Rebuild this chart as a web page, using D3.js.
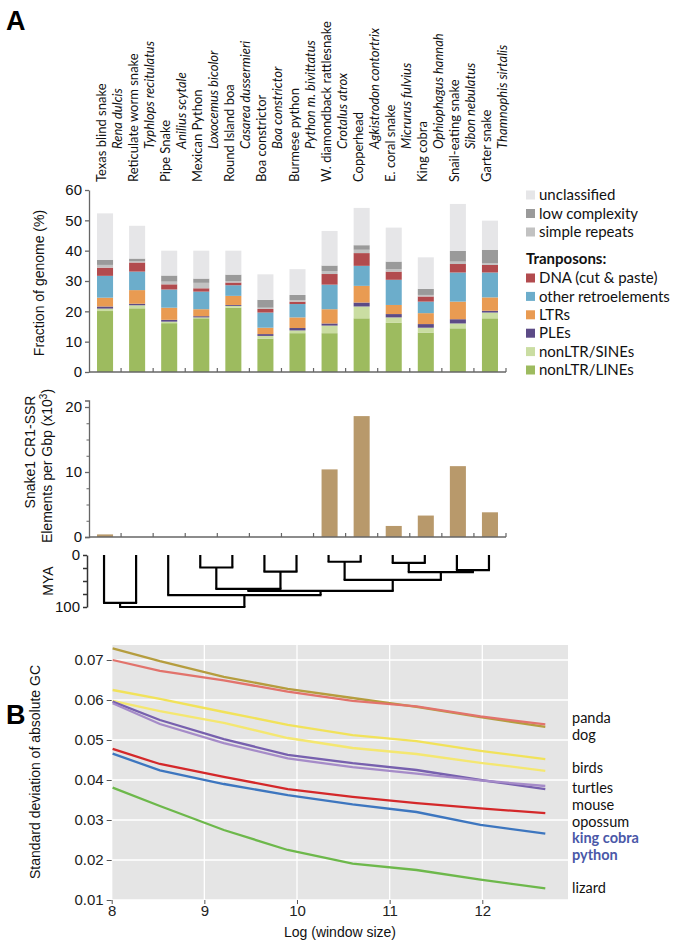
<!DOCTYPE html>
<html><head><meta charset="utf-8">
<script src="https://cdn.jsdelivr.net/npm/d3@7"></script>
<style>
html,body{margin:0;padding:0;background:#fff;}
svg{display:block;}
</style></head>
<body>
<svg id="chart" width="680" height="941"></svg>
<script>
// ---------- DATA ----------
const species = ["Texas blind snake","Reticulate worm snake","Pipe Snake","Mexican Python","Round Island boa","Boa constrictor","Burmese python","W. diamondback rattlesnake","Copperhead","E. coral snake","King cobra","Snail-eating snake","Garter snake"];
const sciNames = ["Rena dulcis","Typhlops recitulatus","Anilius scytale","Loxocemus bicolor","Casarea dussermieri","Boa constrictor","Python m. bivittatus","Crotalus atrox","Agkistrodon contortrix","Micrurus fulvius","Ophiophagus hannah","Sibon nebulatus","Thamnophis sirtalis"];

const nonLTR_LINEs = [20.1,21.0,16.1,17.7,21.2,11.0,12.8,12.8,17.7,16.2,13.0,14.4,17.7];
const nonLTR_SINEs = [0.8,1.0,0.5,0.3,0.6,0.9,0.9,2.5,3.9,1.8,1.6,1.6,1.9];
const PLEs = [0.7,0.5,0.6,0.4,0.3,0.6,0.8,0.7,1.3,1.1,1.2,1.4,0.6];
const LTRs = [2.9,4.5,4.0,2.3,3.0,2.1,3.5,4.7,5.5,3.0,3.6,5.8,4.4];
const otherRetro = [7.2,6.1,6.0,5.8,3.5,5.0,4.4,8.1,6.6,8.3,3.8,9.6,8.2];
const DNA = [2.7,3.0,1.7,1.1,0.9,1.2,0.8,3.5,4.2,2.7,1.7,2.8,2.5];
const simpleRepeats = [0.9,0.4,0.9,1.8,0.5,0.4,0.5,1.0,1.1,0.8,0.5,0.8,0.6];
const lowComplexity = [1.7,0.9,2.0,1.4,2.1,2.6,1.7,1.8,1.5,2.5,2.0,3.5,4.4];
const unclassified = [15.3,10.8,8.2,9.2,7.9,8.4,8.5,11.4,12.3,11.2,10.4,15.5,9.6];

const fractionTicks = [0,10,20,30,40,50,60];

const cr1Values = [0.4,0,0,0,0,0,0,10.4,18.6,1.7,3.3,10.9,3.8];
const cr1Ticks = [0,10,20];

const myaTicks = [0,25,50,75,100];
// phylogeny: node heights in MYA
const tree = {h:100, children:[
  {h:92, children:[{name:"Texas blind snake"},{name:"Reticulate worm snake"}]},
  {h:77, children:[
    {name:"Pipe Snake"},
    {h:69, children:[
      {h:65, children:[
        {h:24, children:[{name:"Mexican Python"},{name:"Round Island boa"}]},
        {h:32, children:[{name:"Boa constrictor"},{name:"Burmese python"}]}
      ]},
      {h:48, children:[
        {h:13, children:[{name:"W. diamondback rattlesnake"},{name:"Copperhead"}]},
        {h:33, children:[
          {h:15, children:[{name:"E. coral snake"},{name:"King cobra"}]},
          {h:29, children:[{name:"Snail-eating snake"},{name:"Garter snake"}]}
        ]}
      ]}
    ]}
  ]}
]};

const logWindow = [8.01,8.52,9.21,9.90,10.60,11.29,11.98,12.68];
const gcOlive  = [0.0729,0.0697,0.0658,0.0628,0.0605,0.0583,0.0557,0.0533];
const gcSalmon = [0.0700,0.0673,0.0649,0.0621,0.0598,0.0584,0.0559,0.0539];
const gcYellow1= [0.0625,0.0603,0.0570,0.0538,0.0512,0.0497,0.0473,0.0452];
const gcYellow2= [0.0598,0.0572,0.0543,0.0505,0.0480,0.0465,0.0443,0.0423];
const gcPurple1= [0.0596,0.0550,0.0502,0.0463,0.0442,0.0425,0.0400,0.0377];
const gcPurple2= [0.0592,0.0540,0.0492,0.0454,0.0432,0.0416,0.0399,0.0385];
const gcRed    = [0.0478,0.0440,0.0408,0.0377,0.0358,0.0342,0.0329,0.0317];
const gcBlue   = [0.0466,0.0424,0.0390,0.0362,0.0339,0.0320,0.0288,0.0266];
const gcGreen  = [0.0381,0.0335,0.0275,0.0225,0.0191,0.0175,0.0151,0.0129];
const gcTicksY = [0.01,0.02,0.03,0.04,0.05,0.06,0.07];
const gcTicksX = [8,9,10,11,12];
const gcLabels = ["panda","dog","birds","turtles","mouse","opossum","king cobra","python","lizard"];
const gcLabelY = [0.0555,0.0513,0.0430,0.0379,0.0337,0.0295,0.0254,0.0213,0.0130];
const gcLabelBold = [false,false,false,false,false,false,true,true,false];

// ---------- DRAW ----------
const svg = d3.select("#chart");
const AX = "Liberation Sans, Arial, sans-serif";
const HUM = "Lato, 'Open Sans', sans-serif";

svg.append("text").attr("x",6).attr("y",30).attr("font-family",AX).attr("font-size",27).attr("font-weight","bold").text("A");
svg.append("text").attr("x",6).attr("y",724).attr("font-family",AX).attr("font-size",27).attr("font-weight","bold").text("B");

// x band scale shared by panel A parts
const x = d3.scaleBand().domain(species).range([89,506]).paddingInner(0.5).paddingOuter(0.25);
const step = x.step();

// species labels
const labG = svg.append("g").attr("font-family",HUM).attr("font-size",13).attr("fill","#111");
species.forEach((s,i)=>{
  const cx = x(s)+x.bandwidth()/2 + 1;
  labG.append("text").attr("transform",`translate(${cx},182) rotate(-90)`).text(s);
  const bx = x(s)+x.bandwidth()+step*0.25 + 1;
  labG.append("text").attr("transform",`translate(${bx},149) rotate(-90)`).attr("font-style","italic").text(sciNames[i]);
});

// stacked bars
const keys = ["LINE","SINE","PLE","LTR","other","DNA","simple","low","unclass"];
const cols = {LINE:"#9dbb5f",SINE:"#cadda2",PLE:"#5c4b86",LTR:"#e99b52",other:"#6cadcb",DNA:"#b24b4e",simple:"#c2c2c2",low:"#9a9a9a",unclass:"#e6e6e8"};
const rows = species.map((s,i)=>({name:s,LINE:nonLTR_LINEs[i],SINE:nonLTR_SINEs[i],PLE:PLEs[i],LTR:LTRs[i],other:otherRetro[i],DNA:DNA[i],simple:simpleRepeats[i],low:lowComplexity[i],unclass:unclassified[i]}));
const stack = d3.stack().keys(keys)(rows);
const yA = d3.scaleLinear().domain([0,60]).range([372,190]);
svg.append("g").selectAll("g").data(stack).join("g").attr("fill",d=>cols[d.key])
  .selectAll("rect").data(d=>d).join("rect")
  .attr("x",d=>x(d.data.name)).attr("width",x.bandwidth())
  .attr("y",d=>yA(d[1])).attr("height",d=>yA(d[0])-yA(d[1]));

const yAxA = svg.append("g").attr("transform","translate(89,0)")
  .call(d3.axisLeft(yA).tickValues(fractionTicks).tickSize(4).tickSizeOuter(0).tickPadding(3));
yAxA.selectAll("text").attr("font-family",AX).attr("font-size",15).attr("fill","#111");
yAxA.selectAll("line,path").attr("stroke","#666").attr("stroke-width",1.3);

function bandAxis(yPos){
  const g = svg.append("g");
  g.append("line").attr("x1",89).attr("x2",506).attr("y1",yPos).attr("y2",yPos).attr("stroke","#666").attr("stroke-width",1.3);
  species.forEach(s=>{
    const bx = x(s)+x.bandwidth()+step*0.25;
    g.append("line").attr("x1",bx).attr("x2",bx).attr("y1",yPos).attr("y2",yPos-4).attr("stroke","#666").attr("stroke-width",1.2);
  });
}
bandAxis(372);

svg.append("text").attr("transform","translate(44,283) rotate(-90)").attr("text-anchor","middle")
  .attr("font-family",AX).attr("font-size",14).attr("fill","#111").text("Fraction of genome (%)");

// legend
const legA = [["unclass","unclassified"],["low","low complexity"],["simple","simple repeats"]];
const legB = [["DNA","DNA (cut & paste)"],["other","other retroelements"],["LTR","LTRs"],["PLE","PLEs"],["SINE","nonLTR/SINEs"],["LINE","nonLTR/LINEs"]];
const lg = svg.append("g").attr("font-family",HUM).attr("font-size",15).attr("fill","#111");
legA.forEach((d,i)=>{
  const cy = 195 + i*18.5;
  lg.append("rect").attr("x",526).attr("y",cy-4.5).attr("width",9).attr("height",9).attr("fill",cols[d[0]]);
  lg.append("text").attr("x",539).attr("y",cy).attr("dy","0.35em").text(d[1]);
});
lg.append("text").attr("x",526).attr("y",259).attr("dy","0.35em").attr("font-weight","bold").text("Tranposons:");
legB.forEach((d,i)=>{
  const cy = 278 + i*18.4;
  lg.append("rect").attr("x",526).attr("y",cy-4.5).attr("width",9).attr("height",9).attr("fill",cols[d[0]]);
  lg.append("text").attr("x",539).attr("y",cy).attr("dy","0.35em").text(d[1]);
});

// CR1 bars
const yC = d3.scaleLinear().domain([0,21]).range([537,400.5]);
svg.append("g").selectAll("rect").data(species).join("rect")
  .attr("fill","#b8996b")
  .attr("x",d=>x(d)).attr("width",x.bandwidth())
  .attr("y",(d,i)=>yC(cr1Values[i])).attr("height",(d,i)=>yC(0)-yC(cr1Values[i]));
const yAxC = svg.append("g").attr("transform","translate(89,0)")
  .call(d3.axisLeft(yC).tickValues(cr1Ticks).tickSize(4).tickSizeOuter(4).tickPadding(3));
yAxC.selectAll("text").attr("font-family",AX).attr("font-size",15).attr("fill","#111");
yAxC.selectAll("line,path").attr("stroke","#666").attr("stroke-width",1.3);
const yAxC2 = svg.append("g").attr("transform","translate(89,0)")
  .call(d3.axisLeft(yC).tickValues(d3.range(2.5,20,2.5).filter(v=>v!==10)).tickSize(2.5).tickFormat(""));
yAxC2.select("path").remove();
yAxC2.selectAll("line").attr("stroke","#666");
bandAxis(537);
const cl = svg.append("g").attr("font-family",AX).attr("font-size",14).attr("fill","#111").attr("text-anchor","middle");
cl.append("text").attr("transform","translate(35,452) rotate(-90)").text("Snake1 CR1-SSR");
cl.append("text").attr("transform","translate(52,466) rotate(-90)").html("Elements per Gbp (x10<tspan font-size='10' dy='-5'>3</tspan><tspan dy='5'>)</tspan>");

// phylogeny
const yT = d3.scaleLinear().domain([0,100]).range([555,607]);
const root = d3.hierarchy(tree);
root.eachAfter(n=>{
  if(!n.children){ n.px = x(n.data.name)+x.bandwidth()/2 - 1; n.ht = 0; }
  else { n.px = d3.mean(n.children,c=>c.px); n.ht = n.data.h; }
});
const tg = svg.append("g").attr("stroke","#000").attr("stroke-width",2.2).attr("fill","none");
root.each(n=>{
  if(n.children){
    tg.append("line").attr("x1",n.children[0].px-1).attr("x2",n.children[1].px+1).attr("y1",yT(n.ht)).attr("y2",yT(n.ht));
    n.children.forEach(c=>{
      tg.append("line").attr("x1",c.px).attr("x2",c.px).attr("y1",yT(c.ht)).attr("y2",yT(n.ht));
    });
  }
});
const yAxT = svg.append("g").attr("transform","translate(87,0)")
  .call(d3.axisLeft(yT).tickValues(myaTicks).tickSize(4).tickSizeOuter(0).tickPadding(3)
    .tickFormat(d=>(d===0||d===100)?d:""));
yAxT.selectAll("text").attr("font-family",AX).attr("font-size",15).attr("fill","#111");
yAxT.selectAll("line,path").attr("stroke","#333").attr("stroke-width",1.5);
svg.append("text").attr("transform","translate(53,581) rotate(-90)").attr("text-anchor","middle")
  .attr("font-family",AX).attr("font-size",14).attr("fill","#111").text("MYA");

// ---------- PANEL B ----------
const xB = d3.scaleLinear().domain([8,12.925]).range([111.7,568]);
const yB = d3.scaleLinear().domain([0.01,0.07375]).range([900,645]);
svg.append("rect").attr("x",xB(8)).attr("y",yB(0.07375)).attr("width",xB(12.925)-xB(8)).attr("height",yB(0.01)-yB(0.07375)).attr("fill","#e5e5e5");
const grid = svg.append("g").attr("stroke","#fff").attr("stroke-width",1.3);
gcTicksY.forEach(v=>grid.append("line").attr("x1",xB(8)).attr("x2",xB(12.925)).attr("y1",yB(v)).attr("y2",yB(v)));
gcTicksX.forEach(v=>grid.append("line").attr("x1",xB(v)).attr("x2",xB(v)).attr("y1",yB(0.01)).attr("y2",yB(0.07375)));

const seriesB = [
  {v:gcOlive,c:"#b59d3e"},{v:gcSalmon,c:"#e2736c"},
  {v:gcYellow1,c:"#f1e25a"},{v:gcYellow2,c:"#f4e771"},
  {v:gcPurple1,c:"#7760ae"},{v:gcPurple2,c:"#a58bc8"},
  {v:gcRed,c:"#d4282a"},{v:gcBlue,c:"#3d76bf"},{v:gcGreen,c:"#6db84b"}
];
const line = d3.line().x((d,i)=>xB(logWindow[i])).y(d=>yB(d));
svg.append("g").selectAll("path").data(seriesB).join("path")
  .attr("d",d=>line(d.v)).attr("fill","none").attr("stroke",d=>d.c).attr("stroke-width",2.3);

const yAxB = svg.append("g").attr("transform",`translate(${xB(8)},0)`)
  .call(d3.axisLeft(yB).tickValues(gcTicksY).tickSize(5).tickPadding(3).tickFormat(d3.format(".2f")));
yAxB.select("path").remove();
yAxB.selectAll("line").attr("stroke","#555");
yAxB.selectAll("text").attr("font-family",AX).attr("font-size",15).attr("fill","#222");
const xAxB = svg.append("g").attr("transform",`translate(0,${yB(0.01)})`)
  .call(d3.axisBottom(xB).tickValues(gcTicksX).tickSize(4).tickPadding(1).tickFormat(d3.format("d")));
xAxB.select("path").remove();
xAxB.selectAll("line").attr("stroke","#555");
xAxB.selectAll("text").attr("font-family",AX).attr("font-size",15).attr("fill","#222");

svg.append("text").attr("x",340).attr("y",937).attr("text-anchor","middle")
  .attr("font-family",AX).attr("font-size",14).attr("fill","#111").text("Log (window size)");
svg.append("text").attr("transform",`translate(40,772) rotate(-90)`).attr("text-anchor","middle")
  .attr("font-family",AX).attr("font-size",14).attr("fill","#111").text("Standard deviation of absolute GC");

const bl = svg.append("g").attr("font-family",HUM).attr("font-size",14.5);
gcLabels.forEach((t,i)=>{
  bl.append("text").attr("x",572).attr("y",yB(gcLabelY[i])).attr("dy","0.35em")
    .attr("fill",gcLabelBold[i]?"#4a58a8":"#111").attr("font-weight",gcLabelBold[i]?"bold":"normal").text(t);
});
</script>
</body></html>
